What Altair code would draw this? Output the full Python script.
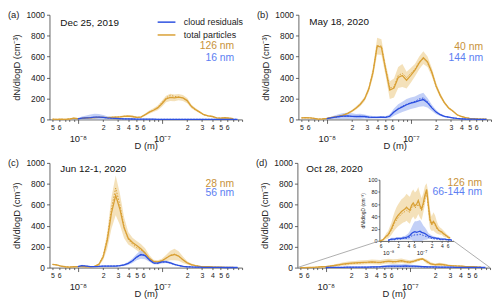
import altair as alt
import pandas as pd

N = None

# ---------------- data ----------------
D_NM = [5.0, 5.6, 6.3, 7.1, 7.9, 8.9, 10.0, 11.2, 12.6, 14.1, 15.8, 17.8, 20.0, 22.4, 25.1,
        28.2, 31.6, 35.5, 39.8, 44.7, 50.1, 56.2, 63.1, 70.8, 79.4, 89.1, 100, 112, 126, 141,
        158, 178, 200, 224, 251, 282, 316, 355, 398, 447, 501, 562, 631, 708, 794]

SERIES = ["cloud residuals", "total particles"]
DATES = ["Dec 25, 2019", "May 18, 2020", "Jun 12-1, 2020", "Oct 28, 2020"]
TAGS = ["(a)", "(b)", "(c)", "(d)"]
MODE_TOT = ["126 nm", "40 nm", "28 nm", "126 nm"]
MODE_CLD = ["16 nm", "144 nm", "56 nm", "66-144 nm"]
Y_TITLE = "dN/dlogD (cm⁻³)"
X_TITLE = "D (m)"
Y_TICKS = [0, 200, 400, 600, 800, 1000]
INSET_Y_TICKS = [0, 20, 40, 60, 80, 100]
X_TICKS = [5e-9, 6e-9, 7e-9, 8e-9, 9e-9, 1e-8, 2e-8, 3e-8, 4e-8, 5e-8, 6e-8, 7e-8, 8e-8, 9e-8,
           1e-7, 2e-7, 3e-7, 4e-7, 5e-7, 6e-7, 7e-7, 8e-7, 9e-7]
INSET_X_TICKS = [6e-9, 1e-8, 2e-8, 4e-8, 6e-8, 1e-7, 2e-7, 4e-7, 6e-7]
X_DOMAIN = [4.6e-9, 9.0e-7]
INSET_X_DOMAIN = [5.5e-9, 8.9e-7]

# (a) Dec 25, 2019
A_TOT_MEAN = [2, 1, 2, 1, 4, 12, 8, 10, 14, 16, 18, 20, 20, 18, 20, 22, 24, 30, 32, 28, 20, 22, 45,
              70, 88, 110, 150, 195, 210, 205, 212, 205, 180, 125, 95, 70, 45, 35, 28, 15, 12, 16, 12, 8, N]
A_TOT_MED = [2, 1, 2, 1, 4, 10, 8, 10, 13, 15, 17, 19, 20, 18, 20, 22, 25, 30, 31, 27, 20, 22, 44,
             68, 90, 115, 160, 205, 230, 220, 215, 205, 175, 120, 92, 68, 44, 34, 27, 15, 12, 15, 12, 8, N]
A_TOT_SD = [3, 3, 3, 3, 4, 6, 5, 5, 6, 6, 7, 8, 8, 8, 8, 8, 9, 10, 10, 9, 8, 8, 12,
            15, 18, 22, 28, 32, 35, 32, 30, 28, 25, 18, 14, 10, 8, 7, 6, 5, 5, 6, 5, 4, N]
A_CLD_MEAN = [N, N, N, N, N, N, 5, 12, 15, 18, 22, 22, 20, 15, 12, 10, 8, 6, 5, 4, 3, 2, 2, 2,
              2, 1, 1, 1, 1, 1, 1, 1, 1, 1, 1, 1, 1, 1, 1, 1, 1, 1, 1, 1, 1]
A_CLD_MED = [N, N, N, N, N, N, 4, 10, 14, 17, 20, 21, 19, 14, 11, 9, 7, 5, 4, 3, 2, 2, 1, 1,
             1, 1, 1, 1, 1, 1, 1, 1, 1, 1, 1, 1, 1, 1, 1, 1, 1, 1, 1, 1, 1]
A_CLD_SD = [N, N, N, N, N, N, 8, 15, 22, 28, 32, 30, 22, 15, 10, 7, 5, 4, 3, 3, 2, 2, 2, 2,
            1, 1, 1, 1, 1, 1, 1, 1, 1, 1, 1, 1, 1, 1, 1, 1, 1, 1, 1, 1, 1]

# (b) May 18, 2020
B_TOT_MEAN = [15, 16, 15, 10, 3, 6, 10, 18, 25, 32, 42, 58, 80, 110, 145, 195, 290, 450, 700, 690, 480,
              280, 300, 400, 420, 375, 420, 470, 540, 590, 550, 450, 320, 230, 160, 110, 80, 45, 28, 18,
              10, 6, 4, 3, 2]
B_TOT_MED = [15, 16, 15, 10, 3, 6, 10, 18, 25, 32, 42, 59, 81, 111, 146, 197, 292, 455, 705, 700, 490,
             300, 310, 420, 440, 400, 440, 480, 550, 580, 540, 445, 318, 228, 160, 110, 80, 45, 28, 18,
             10, 6, 4, 3, 2]
B_TOT_SD = [4, 4, 4, 4, 3, 3, 4, 5, 6, 7, 8, 10, 12, 15, 18, 22, 30, 50, 80, 75, 60,
            85, 90, 100, 110, 80, 70, 60, 60, 60, 50, 40, 30, 22, 16, 12, 10, 8, 6, 5,
            4, 3, 3, 2, 2]
B_CLD_MEAN = [N, N, N, N, N, N, 8, 15, 22, 28, 32, 33, 30, 28, 30, 28, 22, 20, 20, 22, 20, 30, 70, 100,
              120, 140, 155, 165, 180, 190, 160, 110, 70, 45, 30, 22, 15, 10, 6, 4, 3, 2, 1, 1, 1]
B_CLD_MED = [N, N, N, N, N, N, 7, 14, 20, 26, 30, 31, 28, 27, 30, 27, 21, 19, 19, 21, 20, 32, 75, 105,
             125, 145, 160, 172, 195, 205, 170, 112, 70, 44, 29, 21, 14, 9, 6, 4, 3, 2, 1, 1, 1]
B_CLD_SD = [N, N, N, N, N, N, 5, 10, 18, 25, 30, 30, 28, 25, 25, 20, 15, 12, 10, 10, 10, 20, 35, 45,
            50, 55, 55, 55, 60, 65, 45, 30, 20, 12, 8, 6, 5, 4, 3, 2, 2, 1, 1, 1, 1]

# (c) Jun 12-1, 2020
C_TOT_MEAN = [30, 25, 15, 8, 5, 8, 10, 10, 8, 8, 12, 30, 100, 260, 520, 690, 560, 380, 280, 240, 210,
              180, 140, 90, 60, 55, 65, 90, 115, 125, 110, 75, 45, 28, 18, 12, 10, 8, 6, 5, 4, 3, 2, 2, N]
C_TOT_MED = [30, 25, 15, 8, 5, 8, 10, 10, 8, 8, 12, 32, 110, 280, 560, 760, 600, 390, 270, 225, 190,
             170, 135, 85, 58, 55, 66, 92, 118, 128, 110, 74, 44, 27, 18, 12, 10, 8, 6, 5, 4, 3, 2, 2, N]
C_TOT_SD = [6, 5, 4, 3, 3, 3, 3, 3, 3, 3, 5, 12, 30, 80, 150, 190, 150, 100, 60, 45, 45,
            45, 45, 30, 15, 15, 20, 30, 45, 55, 45, 30, 15, 10, 6, 5, 4, 4, 3, 3, 2, 2, 2, 2, N]
C_CLD_MEAN = [N, N, N, N, N, N, 10, 18, 14, 10, 10, 12, 15, 15, 15, 15, 18, 25, 40, 65, 100, 125, 115, 75,
              45, 42, 55, 55, 45, 30, 20, 12, 8, 6, 5, 4, 3, 3, 2, 2, 2, 1, 1, 1, 1]
C_CLD_MED = [N, N, N, N, N, N, 9, 16, 13, 10, 10, 12, 14, 14, 15, 15, 18, 24, 38, 62, 98, 120, 122, 72,
             42, 40, 52, 54, 44, 29, 19, 12, 8, 6, 5, 4, 3, 3, 2, 2, 2, 1, 1, 1, 1]
C_CLD_SD = [N, N, N, N, N, N, 6, 8, 7, 6, 6, 6, 6, 6, 6, 6, 7, 10, 15, 22, 30, 40, 35, 20,
            12, 12, 15, 12, 10, 8, 6, 5, 4, 3, 3, 2, 2, 2, 2, 1, 1, 1, 1, 1, 1]

# (d) Oct 28, 2020
D_TOT_MEAN = [0, 0, 1, 2, 5, 8, 10, 15, 20, 27, 33, 38, 42, 45, 48, 50, 52, 55, 52, 50, 58, 62, 57, 60,
              66, 58, 52, 62, 75, 84, 60, 35, 28, 32, 28, 22, 18, 16, 15, 12, 10, 8, 6, 5, N]
D_TOT_MED = [0, 0, 1, 2, 4, 7, 9, 13, 18, 24, 30, 34, 38, 41, 44, 46, 48, 50, 48, 47, 54, 58, 54, 56,
             60, 54, 50, 58, 70, 78, 56, 33, 26, 30, 26, 20, 17, 15, 14, 11, 9, 7, 5, 4, N]
D_TOT_SD = [1, 1, 1, 2, 3, 5, 6, 8, 10, 13, 15, 17, 18, 19, 20, 20, 21, 22, 22, 22, 22, 22, 22, 22,
            22, 20, 18, 16, 15, 10, 20, 15, 12, 15, 14, 10, 7, 6, 5, 5, 4, 3, 3, 2, N]
D_CLD_MEAN = [N, N, N, N, N, N, 1, 2, 3, 3, 3, 4, 4, 4, 4, 5, 5, 6, 7, 9, 12, 14, 15, 14,
              15, 16, 14, 13, 12, 10, 8, 7, 6, 5, 5, 4, 4, 3, 3, 3, 3, 2, 2, 2, 1]
D_CLD_MED = [N, N, N, N, N, N, 1, 1, 2, 2, 2, 3, 3, 3, 3, 4, 4, 4, 5, 6, 8, 9, 10, 10,
             10, 11, 10, 9, 8, 7, 6, 5, 4, 4, 3, 3, 3, 2, 2, 2, 2, 2, 1, 1, 1]
D_CLD_SD = [N, N, N, N, N, N, 1, 1, 2, 2, 2, 2, 2, 2, 2, 3, 3, 4, 5, 7, 10, 14, 17, 18,
            18, 18, 16, 12, 10, 8, 5, 4, 3, 3, 2, 2, 2, 2, 2, 1, 1, 1, 1, 1, 1]

# ---------------- styling ----------------
FONT = "Liberation Sans"
ORANGE = "#d9a035"
ORANGE_TXT = "#c8923a"
ORANGE_BAND = "#f0d49c"
BLUE = "#2d50e0"
BLUE_TXT = "#5c7ef2"
BLUE_BAND = "#a9bcf4"
AX = "#404040"
W, H = 195, 106


def frame(tm, tmd, tsd, cm, cmd, csd):
    rows = []
    for name, mean, med, sd in ((SERIES[1], tm, tmd, tsd), (SERIES[0], cm, cmd, csd)):
        for d, m, md, s in zip(D_NM, mean, med, sd):
            if m is None:
                continue
            rows.append(dict(D=d * 1e-9, series=name, mean=m, med=md,
                             lo=max(m - s, 0), hi=m + s))
    return pd.DataFrame(rows)


FRAMES = [
    frame(A_TOT_MEAN, A_TOT_MED, A_TOT_SD, A_CLD_MEAN, A_CLD_MED, A_CLD_SD),
    frame(B_TOT_MEAN, B_TOT_MED, B_TOT_SD, B_CLD_MEAN, B_CLD_MED, B_CLD_SD),
    frame(C_TOT_MEAN, C_TOT_MED, C_TOT_SD, C_CLD_MEAN, C_CLD_MED, C_CLD_SD),
    frame(D_TOT_MEAN, D_TOT_MED, D_TOT_SD, D_CLD_MEAN, D_CLD_MED, D_CLD_SD),
]

MAJOR = "abs(log(datum.value) / LN10 - round(log(datum.value) / LN10)) < 0.01"
DIGIT = "round(datum.value / pow(10, floor(log(datum.value) / LN10 + 0.001)))"
EXP = "(datum.value < 5e-8 ? '⁻⁸' : '⁻⁷')"
LABEL_EXPR = f"{MAJOR} ? ['', '10' + {EXP}] : ({DIGIT} <= 6 ? '' + {DIGIT} : '')"
INSET_LABEL_EXPR = f"{MAJOR} ? ['', '10' + {EXP}] : '' + {DIGIT}"

X_AXIS = alt.Axis(values=X_TICKS, tickCount=40, labelExpr=LABEL_EXPR, labelOverlap=False,
                  labelFlush=False,
                  tickSize={"condition": {"test": MAJOR, "value": 4}, "value": 2},
                  labelFontSize={"condition": {"test": MAJOR, "value": 9.5}, "value": 7},
                  labelPadding=2, labelLineHeight=8.5, labelBaseline="top",
                  title=X_TITLE, titleY=21, titleBaseline="top", titleFontSize=9.5,
                  titleFontWeight="normal", grid=False)
Y_AXIS = alt.Axis(values=Y_TICKS, tickCount=20, format="d", title=Y_TITLE, titleFontSize=9.5,
                  titleFontWeight="normal", labelOverlap=False,
                  titlePadding=4, labelFontSize=8.5, tickSize=3, labelPadding=2, grid=False)
INSET_X_AXIS = alt.Axis(orient="bottom", offset=-27, values=INSET_X_TICKS, tickCount=40,
                        labelExpr=INSET_LABEL_EXPR, labelOverlap=False, labelFlush=False,
                        labelFontSize={"condition": {"test": MAJOR, "value": 6}, "value": 5},
                        tickSize=1.5, labelPadding=1, labelLineHeight=6, labelBaseline="top",
                        title="", grid=False)
INSET_Y_AXIS = alt.Axis(orient="left", offset=-83, values=INSET_Y_TICKS, tickCount=20, format="d",
                        labelOverlap=False, labelFontSize=5.5,
                        tickSize=1.5, labelPadding=1, title=Y_TITLE, titleFontSize=5,
                        titleFontWeight="normal", titlePadding=2, grid=False)

LEGEND = alt.Legend(orient="none", legendX=113, legendY=2, title=None, symbolType="M-2,0H2",
                    symbolSize=81, symbolStrokeWidth=1.5, labelFontSize=9, labelFont=FONT,
                    labelColor="#222", labelOffset=12, rowPadding=2, padding=0)


def curves(df, xscale, yscale, xaxis, yaxis, legend=None):
    base = alt.Chart(df)
    tot = base.transform_filter(alt.datum.series == SERIES[1])
    cld = base.transform_filter(alt.datum.series == SERIES[0])
    x_ax = alt.X("D:Q", scale=xscale, axis=xaxis)
    x_no = alt.X("D:Q", scale=xscale)
    band_t = tot.mark_area(color=ORANGE_BAND, opacity=0.7).encode(
        x=x_ax, y=alt.Y("lo:Q", scale=yscale, axis=yaxis), y2="hi:Q")
    band_c = cld.mark_area(color=BLUE_BAND, opacity=0.7).encode(
        x=x_no, y=alt.Y("lo:Q", scale=yscale), y2="hi:Q")
    med_t = tot.mark_line(color=ORANGE, strokeDash=[1.5, 1.5], strokeWidth=1).encode(
        x=x_no, y=alt.Y("med:Q", scale=yscale))
    med_c = cld.mark_line(color=BLUE, strokeDash=[1.5, 1.5], strokeWidth=1).encode(
        x=x_no, y=alt.Y("med:Q", scale=yscale))
    col = alt.Color("series:N", scale=alt.Scale(domain=SERIES, range=[BLUE, ORANGE]),
                    legend=legend)
    lines = base.mark_line(strokeWidth=1.3).encode(
        x=x_no, y=alt.Y("mean:Q", scale=yscale), color=col)
    return alt.layer(band_t, band_c, med_t, med_c, lines)


def note(text, x, y, color, size, align="left", baseline="middle"):
    return alt.Chart(pd.DataFrame({"t": [text]})).mark_text(
        align=align, baseline=baseline, fontSize=size, color=color, font=FONT
    ).encode(x=alt.value(x), y=alt.value(y), text="t:N")


MAIN_X = alt.Scale(type="log", domain=X_DOMAIN, nice=False)
MAIN_Y = alt.Scale(domain=[0, 1000], nice=False)

# relative positions of annotations (pixels inside each plot)
DATE_POS = [(11, 8), (11, 7), (11, 6), (9, 6)]
MODE_POS = [(187, 32, 44), (187, 33, 44), (187, 21, 31), (187, 20, 30)]


def panel(i):
    df = FRAMES[i]
    main = curves(df, MAIN_X, MAIN_Y, X_AXIS, Y_AXIS, LEGEND if i == 0 else None)
    texts = [
        note(TAGS[i], -42, -5, "#222", 9.5, baseline="top"),
        note(DATES[i], DATE_POS[i][0], DATE_POS[i][1], "#111", 10),
        note(MODE_TOT[i], MODE_POS[i][0], MODE_POS[i][1], ORANGE_TXT, 10.5, align="right"),
        note(MODE_CLD[i], MODE_POS[i][0], MODE_POS[i][2], BLUE_TXT, 10.5, align="right"),
    ]
    if i < 3:
        return alt.layer(main, *texts).properties(width=W, height=H)
    idf = df[df["D"] >= INSET_X_DOMAIN[0]]
    inset = curves(idf,
                   alt.Scale(type="log", domain=INSET_X_DOMAIN, range=[83, 158], nice=False),
                   alt.Scale(domain=[0, 100], range=[79, 17], nice=False, clamp=True),
                   INSET_X_AXIS, INSET_Y_AXIS)
    one = pd.DataFrame({"k": [0]})
    conn = [
        alt.Chart(one).mark_rule(color="#999", strokeWidth=0.8).encode(
            x=alt.value(0), y=alt.value(H), x2=alt.value(83), y2=alt.value(79)),
        alt.Chart(one).mark_rule(color="#999", strokeWidth=0.8).encode(
            x=alt.value(W), y=alt.value(H), x2=alt.value(158), y2=alt.value(79)),
    ]
    return alt.layer(main, inset, *conn, *texts).resolve_scale(
        x="independent", y="independent", color="independent"
    ).properties(width=W, height=H)


top = alt.hconcat(panel(0), panel(1), spacing=13).resolve_scale(color="independent").resolve_legend(color="independent")
bottom = alt.hconcat(panel(2), panel(3), spacing=13).resolve_scale(color="independent").resolve_legend(color="independent")
chart = alt.vconcat(top, bottom, spacing=8).resolve_scale(color="independent").resolve_legend(
    color="independent"
).properties(padding=0).configure_view(stroke=None).configure_axis(
    domainColor=AX, tickColor=AX, labelColor="#222", titleColor="#222", labelFont=FONT,
    titleFont=FONT, domainWidth=0.8, tickWidth=0.8
).configure_text(font=FONT)

chart.save("out.html", embed_options={"renderer": "svg", "actions": False})
